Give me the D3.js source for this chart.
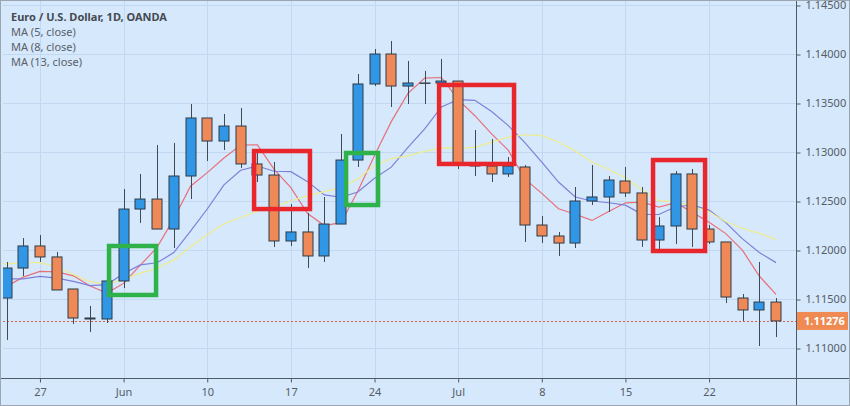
<!DOCTYPE html>
<html>
<head>
<meta charset="utf-8">
<script src="https://cdn.jsdelivr.net/npm/d3@7"></script>
<style>
  html, body { margin: 0; padding: 0; background: #d5e8fc; }
  svg { display: block; }
  text { font-family: "Noto Sans", "Open Sans", sans-serif; }
</style>
</head>
<body>
<svg id="chart" width="850" height="406"></svg>
<script>
// ---------------- data ----------------
const dates = ["May 23","May 24","May 27","May 28","May 29","May 30","May 31",
  "Jun 3","Jun 4","Jun 5","Jun 6","Jun 7","Jun 10","Jun 11","Jun 12","Jun 13","Jun 14",
  "Jun 17","Jun 18","Jun 19","Jun 20","Jun 21","Jun 24","Jun 25","Jun 26","Jun 27","Jun 28",
  "Jul 1","Jul 2","Jul 3","Jul 4","Jul 5","Jul 8","Jul 9","Jul 10","Jul 11","Jul 12",
  "Jul 15","Jul 16","Jul 17","Jul 18","Jul 19","Jul 22","Jul 23","Jul 24","Jul 25","Jul 26"];
const open  = [1.11510,1.11816,1.12041,1.11929,1.11602,1.11306,1.11296,
  1.11684,1.12418,1.12520,1.12214,1.12755,1.13347,1.13112,1.13265,1.12878,1.12765,
  1.12092,1.12184,1.11939,1.12265,1.12918,1.13694,1.14000,1.13673,1.13704,1.13704,
  1.13724,1.12857,1.12857,1.12776,1.12847,1.12255,1.12143,1.12071,1.12500,1.12541,
  1.12704,1.12582,1.12102,1.12245,1.12776,1.12214,1.12082,1.11510,1.11388,1.11469];
const high  = [1.11878,1.12122,1.12153,1.11980,1.11602,1.11429,1.11684,
  1.12622,1.12776,1.13071,1.13092,1.13490,1.13347,1.13388,1.13449,1.13000,1.12898,
  1.12469,1.12378,1.12541,1.13184,1.13796,1.14051,1.14133,1.13929,1.13827,1.13949,
  1.13724,1.13224,1.13133,1.12949,1.12867,1.12347,1.12184,1.12643,1.12867,1.12755,
  1.12847,1.12643,1.12337,1.12806,1.12827,1.12255,1.12082,1.11551,1.11878,1.11510];
const low   = [1.11082,1.11735,1.11878,1.11592,1.11245,1.11163,1.11255,
  1.11612,1.12276,1.12214,1.12020,1.12520,1.12908,1.13020,1.12837,1.12694,1.12031,
  1.12041,1.11816,1.11878,1.12265,1.12847,1.13673,1.13459,1.13490,1.13490,1.13704,
  1.12827,1.12755,1.12694,1.12745,1.12082,1.12071,1.11939,1.12020,1.12459,1.12388,
  1.12541,1.12031,1.12010,1.12061,1.12031,1.12061,1.11459,1.11276,1.11020,1.11112];
const close = [1.11816,1.12041,1.11929,1.11592,1.11306,1.11296,1.11684,
  1.12418,1.12520,1.12214,1.12755,1.13347,1.13112,1.13265,1.12878,1.12765,1.12092,
  1.12184,1.11939,1.12265,1.12918,1.13694,1.14000,1.13673,1.13704,1.13700,1.13724,
  1.12867,1.12857,1.12776,1.12857,1.12255,1.12143,1.12071,1.12500,1.12541,1.12714,
  1.12582,1.12102,1.12245,1.12776,1.12214,1.12082,1.11520,1.11388,1.11469,1.11276];
// closes before the visible window (May 6 - May 22), only used to warm up the MAs
const priorCloses = [1.1199,1.1190,1.1191,1.1214,1.1234,1.1223,1.1204,1.1173,1.1173,1.1157,1.1164,1.1161,1.1151];
const maPeriods = [5, 8, 13];
const maLabels = ["MA (5, close)", "MA (8, close)", "MA (13, close)"];
const title = "Euro / U.S. Dollar, 1D, OANDA";
const xTickIndex = [2, 7, 12, 17, 22, 27, 32, 37, 42];
const xTickLabels = ["27", "Jun", "10", "17", "24", "Jul", "8", "15", "22"];
const yTicks = [1.110, 1.115, 1.120, 1.125, 1.130, 1.135, 1.140, 1.145];
const lastPrice = 1.11276;
// annotation boxes: [bar index from, bar index to, price top, price bottom]
const boxFrom  = [6.13, 14.80, 20.30, 25.86, 38.65];
const boxTo    = [8.94, 18.14, 22.21, 30.34, 41.76];
const boxTop   = [1.12041, 1.13010, 1.12990, 1.13684, 1.12918];
const boxBot   = [1.11541, 1.12418, 1.12459, 1.12878, 1.11990];
const boxKind  = ["green", "red", "green", "red", "red"];

// ---------------- layout ----------------
const W = 850, H = 406;
const plotL = 3, plotR = 796, plotT = 0, plotB = 378;
const x = d3.scaleLinear().domain([0, 46]).range([6.5, 776]);
const y = d3.scaleLinear().domain([1.11, 1.14]).range([348, 54]);

const colors = {
  bg: "#d5e8fc", grid: "#c2d8f0", up: "#3097e6", down: "#ef8a58",
  border: "#2e3b47", wick: "#3f4a55", axis: "#4f5b66", text: "#555d66",
  ma: ["#e8707a", "#7f7fd8", "#eeec8a"], green: "#2fb24a", red: "#e8262c"
};

const svg = d3.select("#chart");
svg.append("rect").attr("width", W).attr("height", H).attr("fill", colors.bg);

svg.append("defs").append("clipPath").attr("id", "plotClip")
  .append("rect").attr("x", plotL).attr("y", plotT)
  .attr("width", plotR - plotL).attr("height", plotB - plotT);

// grid
const grid = svg.append("g");
grid.selectAll("line.v").data(xTickIndex).join("line")
  .attr("x1", d => Math.round(x(d)) + 0.5).attr("x2", d => Math.round(x(d)) + 0.5)
  .attr("y1", plotT).attr("y2", plotB).attr("stroke", colors.grid);
grid.selectAll("line.h").data(yTicks).join("line")
  .attr("y1", d => Math.round(y(d)) + 0.5).attr("y2", d => Math.round(y(d)) + 0.5)
  .attr("x1", plotL).attr("x2", plotR).attr("stroke", colors.grid);

const plot = svg.append("g").attr("clip-path", "url(#plotClip)");

// MAs
const allCloses = priorCloses.concat(close);
const offset = priorCloses.length;
maPeriods.forEach((n, k) => {
  const pts = [];
  for (let i = -1; i < close.length; i++) {
    const j = i + offset;
    if (j - n + 1 < 0) continue;
    pts.push([i, d3.mean(allCloses.slice(j - n + 1, j + 1))]);
  }
  plot.append("path").datum(pts)
    .attr("d", d3.line().x(d => x(d[0])).y(d => y(d[1])))
    .attr("fill", "none").attr("stroke", colors.ma[k]).attr("stroke-width", 1.2);
});

// last price dotted line
plot.append("line")
  .attr("x1", plotL).attr("x2", plotR)
  .attr("y1", Math.round(y(lastPrice)) + 0.5).attr("y2", Math.round(y(lastPrice)) + 0.5)
  .attr("stroke", "#e2604a").attr("stroke-dasharray", "2,2").attr("stroke-width", 1);

// candles
const idx = d3.range(close.length);
const bw = 11;
const c = plot.append("g");
c.selectAll("line.wick").data(idx).join("line")
  .attr("x1", i => Math.round(x(i)) + 0.5).attr("x2", i => Math.round(x(i)) + 0.5)
  .attr("y1", i => y(high[i])).attr("y2", i => y(low[i]))
  .attr("stroke", colors.wick).attr("stroke-width", 1);
c.selectAll("rect.body").data(idx).join("rect")
  .attr("x", i => Math.round(x(i)) - (bw - 1) / 2)
  .attr("width", bw - 1)
  .attr("y", i => y(Math.max(open[i], close[i])))
  .attr("height", i => Math.max(0.01, Math.abs(y(open[i]) - y(close[i]))))
  .attr("fill", i => close[i] >= open[i] ? colors.up : colors.down)
  .attr("stroke", colors.border).attr("stroke-width", 1);

// annotation boxes
plot.selectAll("rect.box").data(d3.range(boxFrom.length)).join("rect")
  .attr("x", i => x(boxFrom[i])).attr("width", i => x(boxTo[i]) - x(boxFrom[i]))
  .attr("y", i => y(boxTop[i])).attr("height", i => y(boxBot[i]) - y(boxTop[i]))
  .attr("fill", "none")
  .attr("stroke", i => boxKind[i] === "green" ? colors.green : colors.red)
  .attr("stroke-width", 4.5);

// axes
const yAxis = svg.append("g").attr("transform", `translate(${plotR + 0.5},0)`)
  .call(d3.axisRight(y).tickValues(yTicks).tickFormat(d3.format(".5f")).tickSize(4).tickPadding(5));
const xAxis = svg.append("g").attr("transform", `translate(0,${plotB + 0.5})`)
  .call(d3.axisBottom(x).tickValues(xTickIndex).tickFormat((d, i) => xTickLabels[i]).tickSize(4).tickPadding(6));
[yAxis, xAxis].forEach(g => {
  g.select(".domain").remove();
  g.selectAll(".tick line").attr("stroke", colors.axis);
  g.selectAll(".tick text").attr("fill", colors.text).style("font-size", "11px")
    .style("font-family", "'Noto Sans', sans-serif");
});
yAxis.selectAll(".tick line").attr("transform", d => `translate(0,${Math.round(y(d)) + 0.5 - y(d)})`);
svg.append("line").attr("x1", 0).attr("x2", W).attr("y1", plotB + 0.5).attr("y2", plotB + 0.5)
  .attr("stroke", colors.axis);
svg.append("line").attr("x1", plotR + 0.5).attr("x2", plotR + 0.5).attr("y1", 0).attr("y2", H)
  .attr("stroke", colors.axis);

// last price label
const ly = y(lastPrice);
svg.append("rect").attr("x", plotR + 1).attr("y", ly - 9).attr("width", W - plotR - 3).attr("height", 18)
  .attr("fill", "#ef8a52");
svg.append("text").attr("x", plotR + 8).attr("y", ly).attr("dy", "0.35em")
  .attr("fill", "#ffffff").style("font-size", "11px").style("font-weight", "bold")
  .text(d3.format(".5f")(lastPrice));

// legend
const leg = svg.append("g").attr("transform", "translate(11,0)");
leg.append("text").attr("y", 21).text(title)
  .attr("fill", "#454a50").style("font-size", "11px").style("font-weight", "bold");
leg.selectAll("text.ma").data(maLabels).join("text")
  .attr("y", (d, i) => 36 + i * 15).text(d => d)
  .attr("fill", "#5a6068").style("font-size", "11px");

// outer frame
svg.append("rect").attr("x", 0.5).attr("y", 0.5).attr("width", W - 1).attr("height", H - 1)
  .attr("fill", "none").attr("stroke", "#9aa7b3");
</script>
</body>
</html>
